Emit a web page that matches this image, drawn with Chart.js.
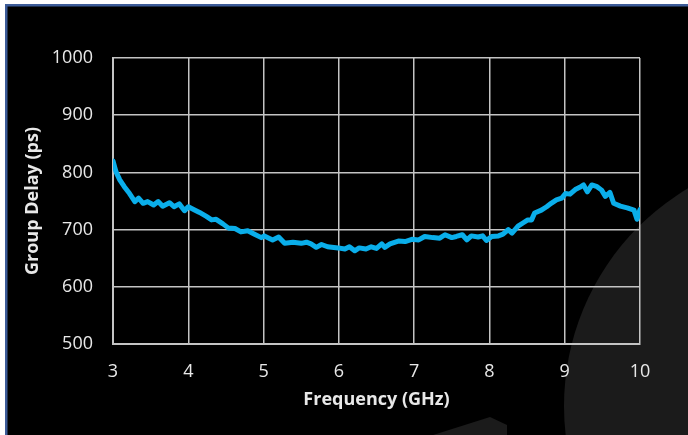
<!DOCTYPE html>
<html>
<head>
<meta charset="utf-8">
<script src="https://cdn.jsdelivr.net/npm/chart.js@4"></script>
<style>
  html, body { margin: 0; padding: 0; background: #fff; }
  #wrap { width: 688px; height: 435px; position: relative; }
</style>
</head>
<body>
<div id="wrap"><canvas id="grafico"></canvas></div>
<script>
// Frequency (GHz) and group delay (ps)
const freq = [3.00,3.04,3.09,3.15,3.22,3.29,3.34,3.40,3.46,3.54,3.60,3.66,3.75,3.81,3.88,3.95,
  4.00,4.09,4.15,4.24,4.31,4.37,4.46,4.53,4.62,4.70,4.79,4.88,4.97,
  5.01,5.12,5.20,5.28,5.39,5.50,5.57,5.63,5.70,5.77,5.85,5.99,
  6.08,6.14,6.21,6.27,6.36,6.43,6.50,6.57,6.61,6.68,6.79,6.88,6.97,
  7.06,7.14,7.25,7.34,7.41,7.50,7.56,7.64,7.70,7.76,7.85,7.91,7.96,
  8.03,8.12,8.18,8.25,8.30,8.38,8.45,8.51,8.56,8.60,8.69,8.76,8.82,8.89,8.96,
  9.01,9.07,9.14,9.20,9.25,9.30,9.36,9.43,9.49,9.54,9.60,9.65,9.74,9.83,9.92,9.96,10.00];
const delay = [820,801,787,775,763,749,755,746,749,743,749,741,747,740,745,733,
  740,734,730,723,717,718,710,703,702,696,698,692,686,
  689,682,687,676,678,676,678,675,669,674,670,668,
  666,670,663,668,666,670,667,675,669,675,680,679,683,
  682,688,686,685,691,686,688,691,682,689,687,689,681,
  688,689,692,700,694,706,712,717,717,729,734,740,746,752,755,
  763,762,770,774,778,766,778,775,769,758,765,746,741,738,734,718,735];

const xTicks = { min: 3, max: 10, step: 1 };
const yTicks = { min: 500, max: 1000, step: 100 };

const txt = "#e8e8e8";
const rejilla = "#c4c4c4";

// fondo: marco azul, negro, circulo gris
const fondo = {
  id: "fondo",
  beforeDraw(chart) {
    const ctx = chart.ctx, w = chart.width, h = chart.height;
    ctx.save();
    ctx.fillStyle = "#fff";
    ctx.fillRect(0, 0, w, h);
    ctx.fillStyle = "#3d5c99";
    ctx.fillRect(5, 4, w - 5, h - 4);
    ctx.fillStyle = "#000";
    ctx.fillRect(7.5, 6.5, w - 7.5, h - 6.5);
    ctx.beginPath();
    ctx.rect(7.5, 6.5, w - 7.5, h - 6.5);
    ctx.clip();
    ctx.fillStyle = "#1b1b1b";
    ctx.beginPath();
    ctx.arc(817, 406, 253, 0, Math.PI * 2);
    ctx.fill();
    ctx.beginPath();
    ctx.moveTo(430, 436);
    ctx.lineTo(490, 417);
    ctx.lineTo(507, 425);
    ctx.lineTo(507, 436);
    ctx.closePath();
    ctx.fill();
    ctx.restore();
  }
};

new Chart(document.getElementById("grafico"), {
  type: "line",
  data: {
    datasets: [{
      data: freq.map((f, i) => ({ x: f, y: delay[i] })),
      borderColor: "#0aaeea",
      borderWidth: 5,
      pointRadius: 0,
      tension: 0,
      borderJoinStyle: "round",
      borderCapStyle: "round"
    }]
  },
  options: {
    responsive: true,
    maintainAspectRatio: false,
    animation: false,
    layout: { padding: { left: 0, right: 48, top: 58, bottom: 0 } },
    plugins: { legend: { display: false }, tooltip: { enabled: false } },
    scales: {
      x: {
        type: "linear",
        min: xTicks.min, max: xTicks.max,
        afterFit: s => { s.height = 91; },
        ticks: { stepSize: xTicks.step, color: txt, padding: 17, font: { family: "Open Sans", size: 18 },
          callback: v => String(v) },
        grid: { color: rejilla, lineWidth: 1.5, drawTicks: false },
        border: { color: rejilla, width: 2 },
        title: { display: true, text: "Frequency (GHz)", color: txt, padding: { top: 0, bottom: 24 },
          font: { family: "Open Sans", size: 18, weight: "bold" } }
      },
      y: {
        min: yTicks.min, max: yTicks.max,
        afterFit: s => { s.width = 113; },
        ticks: { stepSize: yTicks.step, color: txt, padding: 20, font: { family: "Open Sans", size: 18 },
          callback: v => String(v) },
        grid: { color: rejilla, lineWidth: 1.5, drawTicks: false },
        border: { color: rejilla, width: 2 },
        title: { display: true, text: "Group Delay (ps)", color: txt, padding: { top: 22, bottom: 0 },
          font: { family: "Open Sans", size: 18, weight: "bold" } }
      }
    }
  },
  plugins: [fondo]
});
</script>
</body>
</html>
